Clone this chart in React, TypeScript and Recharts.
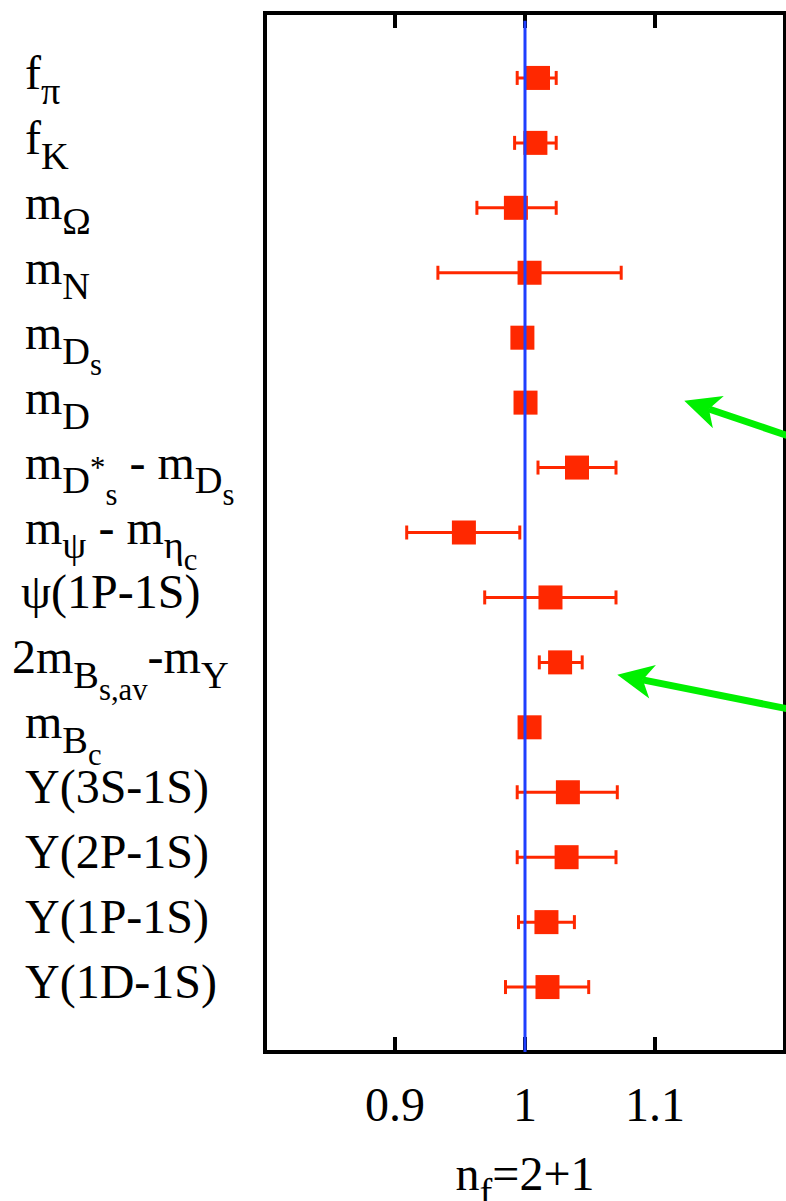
import { ScatterChart, Scatter, XAxis, YAxis, ErrorBar, ReferenceLine, ReferenceArea } from "recharts";

// observables, top to bottom (gnuplot-like enhanced text: _ sub, ^ sup)
const labels = [
  "f_π",
  "f_K",
  "m_Ω",
  "m_N",
  "m_{D_s}",
  "m_D",
  "m_{D^*_s} - m_{D_s}",
  "m_ψ - m_{η_c}",
  "ψ(1P-1S)",
  "2m_{B_{s,av}}-m_Υ",
  "m_{B_c}",
  "Υ(3S-1S)",
  "Υ(2P-1S)",
  "Υ(1P-1S)",
  "Υ(1D-1S)",
];
const values = [1.010, 1.008, 0.993, 1.0035, 0.998, 1.0004, 1.040, 0.953, 1.0196, 1.027, 1.0035, 1.033, 1.032, 1.0165, 1.0173];
const lows = [0.994, 0.992, 0.963, 0.933, 0.994, 0.996, 1.010, 0.909, 0.969, 1.011, 0.999, 0.994, 0.994, 0.995, 0.985];
const highs = [1.024, 1.024, 1.024, 1.074, 1.002, 1.004, 1.070, 0.996, 1.070, 1.044, 1.008, 1.071, 1.070, 1.038, 1.049];
const xTicks = [0.9, 1, 1.1];
const xTitle = "n_f=2+1";

// arrows: [tail, tip]
const arrows = [
  [{ x: 1.22, y: 6.63 }, { x: 1.1225, y: 5.97 }],
  [{ x: 1.223, y: 10.8 }, { x: 1.071, y: 10.19 }],
];

const rows = values.map((v, i) => ({ x: v, y: i + 1, err: [v - lows[i], highs[i] - v] }));
const yTicks = labels.map((_, i) => i + 1);

const FONT = "'Liberation Serif', 'Times New Roman', serif";
const RED = "#ff2800";

type Seg = { t: string; size: number; shift: number };

function parseRich(s: string, size: number, shift: number, out: Seg[]) {
  let i = 0;
  while (i < s.length) {
    const c = s[i];
    if (c === "_" || c === "^") {
      i++;
      let group = "";
      if (s[i] === "{") {
        let depth = 1;
        let j = i + 1;
        while (j < s.length && depth > 0) {
          if (s[j] === "{") depth++;
          if (s[j] === "}") depth--;
          j++;
        }
        group = s.slice(i + 1, j - 1);
        i = j;
      } else {
        group = s[i];
        i++;
      }
      const sh = c === "_" ? shift + size * 0.31 : shift - size * 0.4;
      parseRich(group, size * 0.8, sh, out);
    } else {
      let j = i;
      while (j < s.length && s[j] !== "_" && s[j] !== "^") j++;
      out.push({ t: s.slice(i, j), size, shift });
      i = j;
    }
  }
  return out;
}

const RichText = ({ text, x, y, size, anchor = "start" }: any) => {
  const segs = parseRich(text, size, 0, []);
  let prev = 0;
  return (
    <text x={x} y={y} textAnchor={anchor} fontFamily={FONT} fill="#000" style={{ whiteSpace: "pre" }}>
      {segs.map((s, k) => {
        const dy = s.shift - prev;
        prev = s.shift;
        return (
          <tspan key={k} dy={dy} fontSize={s.size}>
            {s.t}
          </tspan>
        );
      })}
    </text>
  );
};

const indent: Record<number, number> = { 9: -4, 10: -13 };

const LabelTick = ({ y, payload }: any) => {
  const idx = payload.value;
  return <RichText text={labels[idx - 1]} x={25 + (indent[idx] || 0)} y={y + 11} size={48} />;
};

const BottomTick = ({ x, y, payload }: any) => (
  <text x={x} y={y + 69} textAnchor="middle" fontFamily={FONT} fontSize={48} fill="#000">
    {String(payload.value)}
  </text>
);

// short inward tick marks at top and bottom of the frame
const InnerTicks = ({ x1, y1, y2 }: any) => {
  const top = Math.min(y1, y2);
  const bottom = Math.max(y1, y2);
  return (
    <g>
      <line x1={x1} x2={x1} y1={top} y2={top + 15} stroke="#000" strokeWidth={4} />
      <line x1={x1} x2={x1} y1={bottom} y2={bottom - 15} stroke="#000" strokeWidth={4} />
    </g>
  );
};

const Square = ({ cx, cy }: any) => <rect x={cx - 12} y={cy - 12} width={24} height={24} fill={RED} />;

const Arrow = ({ x1, y1, x2, y2 }: any) => {
  const dx = x2 - x1;
  const dy = y2 - y1;
  const len = Math.hypot(dx, dy);
  const ux = dx / len;
  const uy = dy / len;
  const nx = -uy;
  const ny = ux;
  const head = 36;
  const half = 17;
  const notch = 26;
  const bx = x2 - ux * head;
  const by = y2 - uy * head;
  const kx = x2 - ux * notch;
  const ky = y2 - uy * notch;
  return (
    <g>
      <line x1={x1} y1={y1} x2={kx} y2={ky} stroke="#00f000" strokeWidth={7} />
      <polygon points={`${x2},${y2} ${bx + nx * half},${by + ny * half} ${kx},${ky} ${bx - nx * half},${by - ny * half}`} fill="#00f000" />
    </g>
  );
};

const AxisTitle = ({ viewBox }: any) => (
  <RichText text={xTitle} x={viewBox.x + viewBox.width / 2} y={viewBox.y + 138} size={48} anchor="middle" />
);

export default function App() {
  return (
    <div style={{ position: "absolute", left: 0, top: 0, background: "#fff" }}>
      <ScatterChart width={786} height={1201} margin={{ top: 13, right: 1, bottom: 0, left: 0 }}>
        <XAxis
          type="number"
          dataKey="x"
          domain={[0.8, 1.2]}
          ticks={xTicks}
          height={149}
          axisLine={false}
          tickLine={false}
          tickSize={0}
          tickMargin={0}
          tick={<BottomTick />}
          label={{ content: <AxisTitle /> }}
        />
        <YAxis
          type="number"
          dataKey="y"
          domain={[0, 16]}
          reversed
          ticks={yTicks}
          interval={0}
          width={265}
          axisLine={false}
          tickLine={false}
          tick={<LabelTick />}
        />
        <ReferenceArea x1={0.8} x2={1.2} y1={0} y2={16} fill="none" stroke="#000" strokeWidth={4} ifOverflow="visible" />
        {xTicks.map((t) => (
          <ReferenceLine key={t} x={t} shape={<InnerTicks />} />
        ))}
        <Scatter data={rows} shape={<Square />} isAnimationActive={false}>
          <ErrorBar dataKey="err" direction="x" width={7} strokeWidth={3} stroke={RED} />
        </Scatter>
        <ReferenceLine segment={[{ x: 1, y: 0.12 }, { x: 1, y: 16 }]} stroke="#1f3fff" strokeWidth={3} zIndex={1000} />
        {arrows.map((seg, i) => (
          <ReferenceLine key={i} segment={seg} ifOverflow="visible" shape={<Arrow />} />
        ))}
      </ScatterChart>
    </div>
  );
}
